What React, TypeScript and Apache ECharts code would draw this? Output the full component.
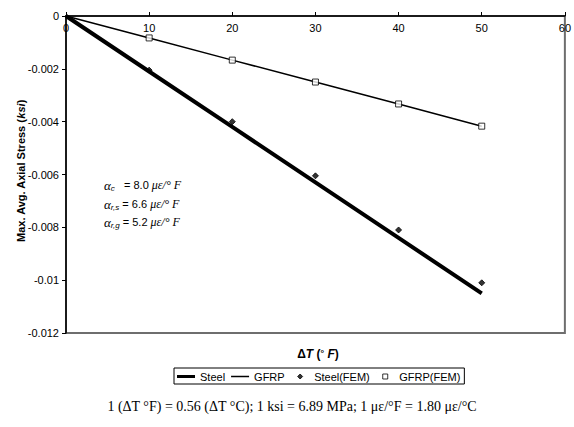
import React, { useEffect, useRef } from "react";
import * as echarts from "echarts";

const deltaT = [0, 10, 20, 30, 40, 50];
const steelLine = [0, -0.0021, -0.0042, -0.0063, -0.0084, -0.0105];
const gfrpLine = [0, -0.00083, -0.00167, -0.0025, -0.00333, -0.00417];
const femT = [10, 20, 30, 40, 50];
const steelFEM = [-0.00205, -0.004, -0.00605, -0.0081, -0.0101];
const gfrpFEM = [-0.00083, -0.00167, -0.0025, -0.00333, -0.00417];

const SANS = "'Liberation Sans', Arial, sans-serif";
const SERIF = "'Liberation Serif', 'Times New Roman', serif";

// legend icons (bounding box 18 x 8, including invisible corner points)
const BOX = "M0,0L0.01,0M18,8L17.99,8";
const ICON_STEEL = `path://${BOX}M0,2.5H18V5.5H0Z`;
const ICON_GFRP = `path://${BOX}M0,3.25H18V4.75H0Z`;
const ICON_DIAMOND = `path://${BOX}M9,1.5L11.5,4L9,6.5L6.5,4Z`;
const ICON_SQUARE = `path://${BOX}M6.5,1.5H11.5V6.5H6.5Z`;

export default function App() {
  const ref = useRef<HTMLDivElement>(null);
  useEffect(() => {
    if (!ref.current) return;
    const chart = echarts.init(ref.current, null, { renderer: "svg" });
    const zip = (xs: number[], ys: number[]) => xs.map((x, i) => [x, ys[i]]);
    const alphaRich = {
      a: { fontFamily: SERIF, fontStyle: "italic", fontSize: 13, color: "#000" },
      s: { fontFamily: SANS, fontStyle: "italic", fontSize: 8, color: "#000", verticalAlign: "bottom", padding: [6, 0, 0, 0] },
      t: { fontFamily: SANS, fontSize: 11, color: "#000" },
      i: { fontFamily: SERIF, fontStyle: "italic", fontSize: 12, color: "#000" },
    };
    chart.setOption({
      animation: false,
      grid: {
        left: 66,
        right: 9,
        top: 16,
        bottom: 94,
        show: true,
        borderColor: "#6e6e6e",
        borderWidth: 2,
      },
      xAxis: {
        type: "value",
        position: "top",
        min: 0,
        max: 60,
        interval: 10,
        axisLine: { onZero: false, lineStyle: { color: "#000", width: 1.5 } },
        axisTick: { inside: false, length: 4, lineStyle: { color: "#000" } },
        axisLabel: { inside: true, margin: 6, fontFamily: SANS, fontSize: 11, color: "#000" },
        splitLine: { show: false },
      },
      yAxis: {
        type: "value",
        min: -0.012,
        max: 0,
        interval: 0.002,
        axisLine: { show: true, onZero: false, lineStyle: { color: "#000", width: 1.5 } },
        axisTick: { show: true, length: 4, lineStyle: { color: "#000" } },
        axisLabel: {
          fontFamily: SANS,
          fontSize: 11,
          color: "#000",
          margin: 7,
          formatter: (v: number) => String(parseFloat(v.toFixed(4))),
        },
        splitLine: { show: false },
      },
      legend: {
        left: 174,
        top: 368,
        width: 560,
        orient: "horizontal",
        borderColor: "#000",
        borderWidth: 1,
        padding: [3, 4, 2, 3],
        itemGap: 6,
        itemWidth: 18,
        itemHeight: 8,
        textStyle: { fontFamily: SANS, fontSize: 11, color: "#000" },
        data: [
          { name: "Steel", icon: ICON_STEEL, itemStyle: { color: "#000", borderWidth: 0 } },
          { name: "GFRP", icon: ICON_GFRP, itemStyle: { color: "#000", borderWidth: 0 } },
          { name: "Steel(FEM)", icon: ICON_DIAMOND, itemStyle: { color: "#000", borderColor: "#000", borderWidth: 1 } },
          { name: "GFRP(FEM)", icon: ICON_SQUARE, itemStyle: { color: "#fff", borderColor: "#000", borderWidth: 1 } },
        ],
      },
      series: [
        {
          name: "Steel",
          type: "line",
          data: zip(deltaT, steelLine),
          symbol: "none",
          lineStyle: { color: "#000", width: 4 },
          itemStyle: { color: "#000" },
          z: 3,
        },
        {
          name: "GFRP",
          type: "line",
          data: zip(deltaT, gfrpLine),
          symbol: "none",
          lineStyle: { color: "#000", width: 1.5 },
          itemStyle: { color: "#000" },
          z: 3,
        },
        {
          name: "Steel(FEM)",
          type: "scatter",
          data: zip(femT, steelFEM),
          symbol: "diamond",
          symbolSize: 6,
          itemStyle: { color: "#000", borderColor: "#000", borderWidth: 1 },
          z: 4,
        },
        {
          name: "GFRP(FEM)",
          type: "scatter",
          data: zip(femT, gfrpFEM),
          symbol: "rect",
          symbolSize: 6,
          itemStyle: { color: "#fff", borderColor: "#000", borderWidth: 1 },
          z: 4,
        },
      ],
      graphic: [
        {
          type: "text",
          x: 21,
          y: 171,
          rotation: Math.PI / 2,
          style: {
            text: "{a|Max. Avg. Axial Stress (}{b|ksi}{a|)}",
            align: "center",
            verticalAlign: "middle",
            rich: {
              a: { fontFamily: SANS, fontWeight: "bold", fontSize: 11, fill: "#000" },
              b: { fontFamily: SANS, fontWeight: "bold", fontStyle: "italic", fontSize: 11, fill: "#000" },
            },
          },
        },
        {
          type: "text",
          x: 318,
          y: 354,
          style: {
            text: "{a|Δ}{b|T}{a| (}{c|°}{b| F}{a|)}",
            align: "center",
            verticalAlign: "middle",
            rich: {
              a: { fontFamily: SANS, fontWeight: "bold", fontSize: 12, fill: "#000" },
              b: { fontFamily: SANS, fontWeight: "bold", fontStyle: "italic", fontSize: 12, fill: "#000" },
              c: { fontFamily: SANS, fontWeight: "bold", fontSize: 9, fill: "#000", verticalAlign: "top" },
            },
          },
        },
        {
          type: "text",
          x: 104,
          y: 185,
          style: { text: "{a|α}{s|c}{t|   = 8.0 }{i|με/° F}", verticalAlign: "middle", rich: alphaRich },
        },
        {
          type: "text",
          x: 104,
          y: 204,
          style: { text: "{a|α}{s|r,s}{t| = 6.6 }{i|με/° F}", verticalAlign: "middle", rich: alphaRich },
        },
        {
          type: "text",
          x: 104,
          y: 222,
          style: { text: "{a|α}{s|r,g}{t| = 5.2 }{i|με/° F}", verticalAlign: "middle", rich: alphaRich },
        },
        {
          type: "text",
          x: 292,
          y: 406,
          style: {
            text: "1 (ΔT °F) = 0.56 (ΔT °C); 1 ksi = 6.89 MPa; 1 με/°F = 1.80 με/°C",
            align: "center",
            verticalAlign: "middle",
            fontFamily: SERIF,
            fontSize: 14,
            fill: "#000",
          },
        },
      ],
    });
    return () => chart.dispose();
  }, []);
  return <div ref={ref} style={{ width: 574, height: 427, position: "absolute", left: 0, top: 0 }} />;
}
